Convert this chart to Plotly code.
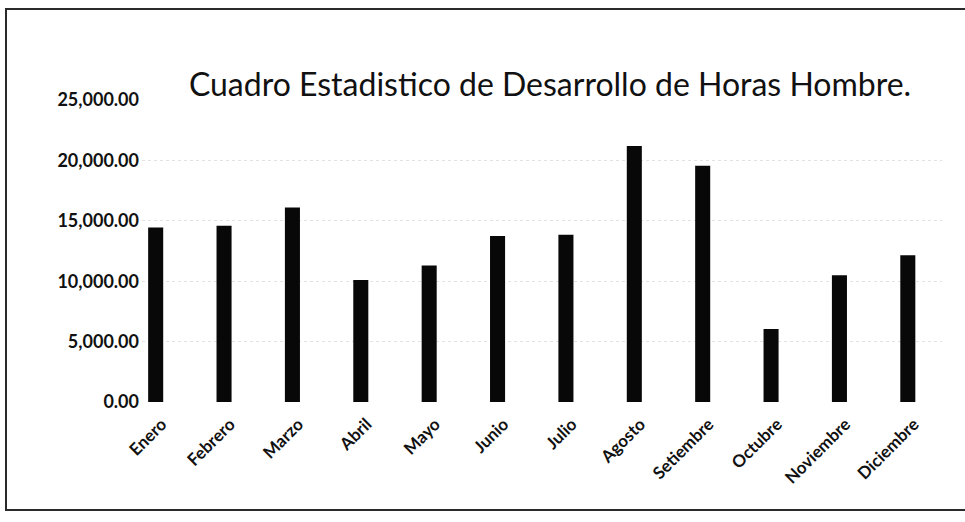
import plotly.graph_objects as go

# Monthly man-hours
meses = ["Enero", "Febrero", "Marzo", "Abril", "Mayo", "Junio", "Julio",
         "Agosto", "Setiembre", "Octubre", "Noviembre", "Diciembre"]
horas = [14450, 14600, 16100, 10100, 11300, 13750, 13850,
         21200, 19550, 6050, 10500, 12150]
y_ticks = [0, 5000, 10000, 15000, 20000, 25000]

FONT = "Lato, 'Open Sans', sans-serif"

L, R, T, B = 142, 23, 100, 120   # plot-area margins in px
PLOT_W = 965 - L - R
PLOT_H = 522 - T - B
PLOT_BOTTOM = 522 - B

fig = go.Figure(
    go.Bar(x=meses, y=horas, marker=dict(color="#080808", line=dict(width=0)))
)

fig.update_layout(
    width=965, height=522,
    margin=dict(l=L, r=R, t=T, b=B),
    paper_bgcolor="white", plot_bgcolor="white",
    bargap=0.78,
    showlegend=False,
    title=dict(text="Cuadro Estadistico de Desarrollo de Horas Hombre.",
               x=0.57, xanchor="center", y=0.838, yanchor="middle",
               font=dict(family=FONT, size=32, color="#111111")),
    font=dict(family=FONT, color="#111111"),
)

fig.update_yaxes(
    range=[0, 25000], tickvals=y_ticks, tickformat=",.2f",
    showgrid=True, gridcolor="#e2e2e2", griddash="dot", gridwidth=1,
    zeroline=False, showline=False, ticks="",
    tickfont=dict(family=FONT, size=18, color="#111111", weight="bold"),
    ticklabelstandoff=2,
)
fig.update_xaxes(
    range=[-0.2, 11.5],
    tickangle=-45, showline=False, ticks="", showgrid=False,
    tickfont=dict(family=FONT, size=17, color="#111111", weight="bold"),
    ticklabelstandoff=8, ticklabelshift=6,
)

# outer chart border (page pixels converted to paper coordinates)
fig.add_shape(type="rect", xref="paper", yref="paper",
              x0=(6 - L) / PLOT_W, x1=(972 - L) / PLOT_W,
              y0=(PLOT_BOTTOM - 510) / PLOT_H, y1=(PLOT_BOTTOM - 9) / PLOT_H,
              line=dict(color="#2a2a2a", width=2), fillcolor="rgba(0,0,0,0)",
              layer="below")

fig.write_html("out.html")
